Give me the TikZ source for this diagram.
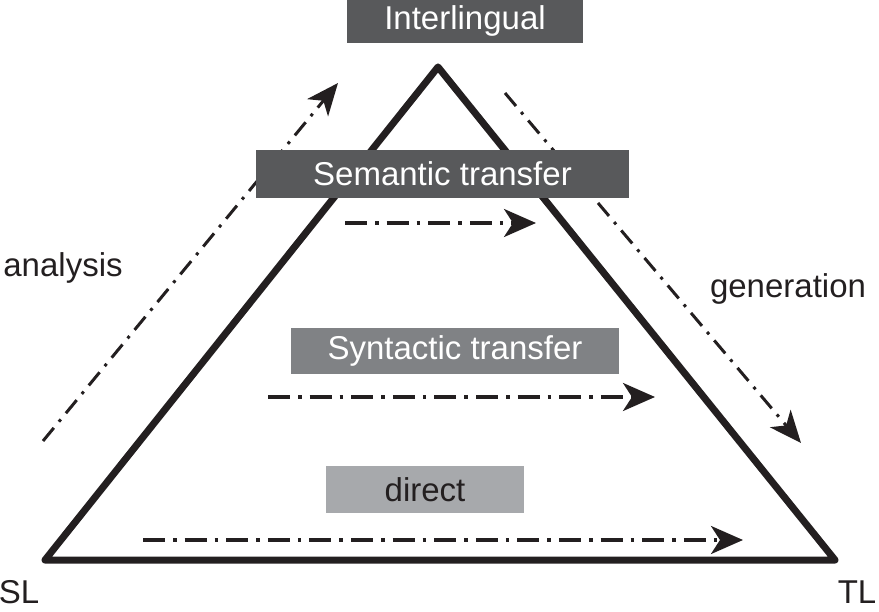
\documentclass[tikz,border=0pt]{standalone}
\usepackage{fontspec}
\setmainfont{Liberation Sans}
\usetikzlibrary{arrows.meta}
\definecolor{ink}{HTML}{231F20}
\definecolor{darkbox}{HTML}{58595B}
\definecolor{midbox}{HTML}{808285}
\definecolor{lightbox}{HTML}{A7A9AC}
\tikzset{
  lbl/.style={font=\fontsize{33}{33}\selectfont, text=ink, inner sep=0pt},
  levelbox/.style={font=\fontsize{33}{33}\selectfont, inner sep=0pt, anchor=center},
  flow/.style={draw=ink, line width=3.6pt, dash pattern=on 22pt off 8pt on 3.6pt off 8pt,
    -{Stealth[length=32pt,width=28pt,inset=9pt]}},
  diagflow/.style={draw=ink, line width=3pt, dash pattern=on 17pt off 8pt on 3pt off 8pt,
    -{Stealth[length=32pt,width=27pt,inset=9pt]}},
}
\begin{document}
\begin{tikzpicture}[x=1pt,y=-1pt]
\useasboundingbox (0,0) rectangle (879,612);
% triangle corners
\coordinate (apex) at (438,67);
\coordinate (sl) at (45,560);
\coordinate (tl) at (835,560);
\draw[ink, line width=7pt, line join=round] (apex) -- (tl) -- (sl) -- cycle;

% arrow end points
\coordinate (semA) at (345,223);
\coordinate (semB) at (536,223);
\coordinate (synA) at (268,397);
\coordinate (synB) at (655,397);
\coordinate (dirA) at (143,540);
\coordinate (dirB) at (743,540);
\coordinate (anaA) at (43,441);
\coordinate (anaB) at (338,83);
\coordinate (genA) at (505,93);
\coordinate (genB) at (801,443);

\draw[flow] (semA) -- (semB);
\draw[flow] (synA) -- (synB);
\draw[flow] (dirA) -- (dirB);
\draw[diagflow] (anaA) -- (anaB);
\draw[diagflow] (genA) -- (genB);

% level boxes (drawn on top of the lines)
\node[levelbox, fill=darkbox, text=white, minimum width=236pt, minimum height=44pt] (inter) at (465,21) {Interlingual};
\node[levelbox, fill=darkbox, text=white, minimum width=373pt, minimum height=48pt] (sem) at (442.5,174) {Semantic transfer};
\node[levelbox, fill=midbox, text=white, minimum width=328pt, minimum height=46pt] (syn) at (455,351) {Syntactic transfer};
\node[levelbox, fill=lightbox, text=ink, minimum width=198pt, minimum height=47pt] (dir) at (425,489.5) {direct};

% labels
\node[lbl] (analysis) at (63,268) {analysis};
\node[lbl] (generation) at (788,289) {generation};
\node[lbl] (sllbl) at (19,592) {SL};
\node[lbl] (tllbl) at (857,592) {TL};
\end{tikzpicture}
\end{document}
